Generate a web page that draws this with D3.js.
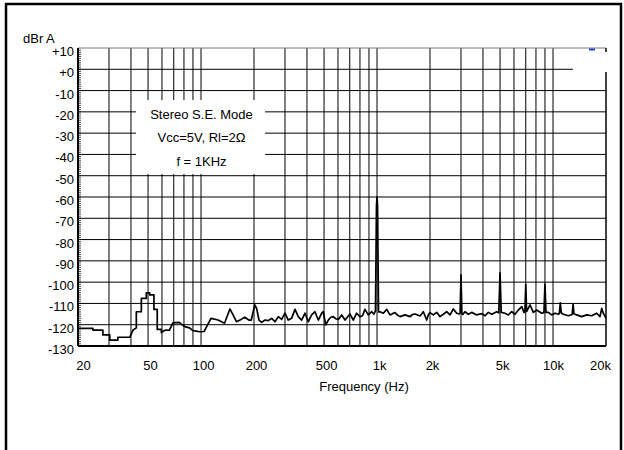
<!DOCTYPE html>
<html>
<head>
<meta charset="utf-8">
<script src="https://cdn.jsdelivr.net/npm/d3@7/dist/d3.min.js"></script>
<style>
body { margin: 0; background: #fff; }
svg text { font-family: "Liberation Sans", Arial, Helvetica, sans-serif; font-size: 13px; fill: #000; }
</style>
</head>
<body>
<div class="visual"></div>
<script>
//data
const freqHz = [20,24.3,24.3,27.7,27.7,30.3,30.3,33.7,33.7,39.3,41.1,42.9,42.9,45.8,45.8,48.9,48.9,51.1,51.1,54,54,56.4,56.4,59.5,59.5,62.7,66,69.3,75,80.8,86,90,98.3,104,114,125,136,146,159,169,177,187,193,202,207,213.5,221,
  231,241,252,263,275,287,300,313,327,342,357,373,390,407,425,444,464,485,495,511,529,546,564,583,603,630,658,680,702,733,766,800,827,854,892,933,960,980,993,1000,1007,1020,
  1040,1086,1135,1185,1225,1265,1310,1351,1442,1540,1590,1644,1755,1833,1916,1960,2000,2089,2183,2280,2380,2488,2599,2714,2837,2930,2965,3000,3035,3070,3162,3302,3452,3684,3934,4108,4290,4485,4788,4920,5000,5080,5337,5573,5826,6082,6352,6641,6845,6920,7000,7080,7402,7727,8079,8625,8880,9000,9120,9403,9830,10264,10717,10860,11000,11140,11441,12215,12850,13000,13150,13628,14550,15535,16586,17708,18496,18906,19306,20000];
const levelDb = [-121.7,-121.7,-122.5,-122.5,-124.8,-124.8,-127.2,-127.2,-125.9,-125.9,-122.5,-121.5,-113.9,-113.9,-107.6,-107.6,-105,-105,-106,-106,-112.8,-112.8,-122.2,-122.2,-123.7,-122.5,-122.6,-119.1,-118.9,-120.9,-121.5,-122.8,-123.3,-123.2,-117,-117.8,-119.3,-112.6,-118.6,-117.5,-116.5,-117.8,-117.8,-110.7,-112.3,-117.8,-118.9,
  -117.8,-118.1,-117,-118.6,-116.2,-117.5,-114.6,-117.8,-117,-112.8,-116.2,-117.8,-114.6,-118.6,-115.4,-113.9,-117.8,-114.6,-113.9,-120.1,-117.8,-116.5,-116.2,-117.2,-117.5,-115.4,-117.8,-116.4,-115,-117.8,-114.6,-116.2,-115.8,-112.8,-115.4,-113.9,-115,-113.5,-64,-60,-64,-114,
  -113.9,-114.6,-112.8,-115.4,-114.8,-114.3,-115.6,-116.2,-115.4,-116.2,-115.2,-115,-115.9,-113.9,-117.8,-115.2,-114.3,-115.4,-114.2,-116.2,-115.1,-113.9,-115.4,-112.6,-114.6,-115,-114.5,-96.6,-114.5,-115.2,-113.9,-115.1,-114.2,-115.4,-114.8,-115.8,-114.2,-115.1,-113.9,-114.4,-95.6,-114.2,-114.6,-115.4,-113.9,-115.1,-113.1,-111.5,-114.2,-114,-101,-113.8,-110.7,-114.2,-113.1,-114.6,-114.3,-100.9,-114.2,-114.2,-115.4,-114.6,-115.1,-114.8,-109.7,-114.5,-115.1,-115.8,-115.2,-110.4,-114.8,-115.4,-116.2,-115.4,-115.8,-114.6,-116.2,-112.3,-114.6,-117];

const xTickValues = [20,50,100,200,500,1000,2000,5000,10000,20000];
const xTickLabels = ["20","50","100","200","500","1k","2k","5k","10k","20k"];
const gridFreqs = [30,40,50,60,70,80,90,100,200,300,400,500,600,700,800,900,1000,2000,3000,4000,5000,6000,7000,8000,9000,10000];
const yTickValues = [10,0,-10,-20,-30,-40,-50,-60,-70,-80,-90,-100,-110,-120,-130];
const yTickLabels = ["+10","+0","-10","-20","-30","-40","-50","-60","-70","-80","-90","-100","-110","-120","-130"];
const noteLines = ["Stereo S.E. Mode","Vcc=5V, Rl=2\u03a9","f = 1KHz"];

//set constants
const width = 624, height = 450;
const margin = {top: 48, bottom: 104, left: 78, right: 18};
const w = width - margin.left - margin.right;
const h = height - margin.top - margin.bottom;

const svg = d3.select(".visual")
  .append("svg")
  .attr("width", width)
  .attr("height", height);

// outer frame (bottom edge is cut off in the original)
svg.append("path")
  .attr("d", "M6,450V4H621V450")
  .attr("fill", "none")
  .attr("stroke", "#000")
  .attr("stroke-width", 2.5);

const g = svg.append("g")
  .attr("transform", "translate(" + margin.left + "," + margin.top + ")");

//scales
const xScale = d3.scaleLog().domain([20, 20000]).range([0, w]);
const yScale = d3.scaleLinear().domain([-130, 10]).range([h, 0]);

// grid
g.selectAll(".vgrid")
  .data(gridFreqs)
  .enter()
  .append("line")
  .attr("class", "vgrid")
  .attr("x1", d => xScale(d)).attr("x2", d => xScale(d))
  .attr("y1", 0).attr("y2", h)
  .attr("stroke", "#000").attr("stroke-width", 1);

g.selectAll(".hgrid")
  .data(yTickValues.filter(d => d > -130))
  .enter()
  .append("line")
  .attr("class", "hgrid")
  .attr("x1", 0)
  .attr("x2", d => d == 0 ? w - 33 : w)
  .attr("y1", d => yScale(d)).attr("y2", d => yScale(d))
  .attr("stroke", d => d == 10 ? "#777" : "#000").attr("stroke-width", 1);

// minor ticks on the dB axis, 1 dB apart
g.selectAll(".minor")
  .data(d3.range(-130, 10, 1))
  .enter()
  .append("line")
  .attr("x1", 0).attr("x2", 3)
  .attr("y1", d => yScale(d)).attr("y2", d => yScale(d))
  .attr("stroke", "#000").attr("stroke-width", 0.7);

// text box masks the grid
g.append("rect")
  .attr("x", 58).attr("y", 52)
  .attr("width", 129).attr("height", 74)
  .attr("fill", "#fff");
g.selectAll(".note")
  .data(noteLines)
  .enter()
  .append("text")
  .attr("class", "note")
  .attr("x", 123.5)
  .attr("y", (d, i) => 70.5 + i * 23.5)
  .attr("text-anchor", "middle")
  .text(d => d);

// frame of the plot
g.append("line").attr("x1", 0).attr("x2", 0).attr("y1", 0).attr("y2", h)
  .attr("stroke", "#000").attr("stroke-width", 2);
g.append("line").attr("x1", 0).attr("x2", w).attr("y1", h).attr("y2", h)
  .attr("stroke", "#000").attr("stroke-width", 2.2);
g.append("line").attr("x1", w).attr("x2", w).attr("y1", 24).attr("y2", h)
  .attr("stroke", "#000").attr("stroke-width", 1.5);
g.append("line").attr("x1", w).attr("x2", w).attr("y1", 0).attr("y2", 4)
  .attr("stroke", "#000").attr("stroke-width", 1.5);
g.append("rect").attr("x", w - 17).attr("y", 0.5).attr("width", 6).attr("height", 2)
  .attr("fill", "#1d3fe0");

// the spectrum
const line = d3.line()
  .x((d, i) => xScale(freqHz[i]))
  .y(d => yScale(d));
g.append("path")
  .datum(levelDb)
  .attr("d", line)
  .attr("fill", "none")
  .attr("stroke", "#000")
  .attr("stroke-width", 1.7)
  .attr("stroke-linejoin", "round");

// axes (labels only)
const yAxis = d3.axisLeft(yScale)
  .tickValues(yTickValues)
  .tickFormat((d, i) => yTickLabels[i])
  .tickSize(0).tickPadding(4);
g.append("g").attr("id", "y-axis").call(yAxis)
  .call(a => a.select(".domain").remove())
  .selectAll("text").attr("dy", "0.58em").attr("fill", "#000");

const xShift = {20: 5, 10000: 0, 20000: -6};
const xAxis = d3.axisBottom(xScale)
  .tickValues(xTickValues)
  .tickFormat((d, i) => xTickLabels[i])
  .tickSize(0).tickPadding(15);
g.append("g").attr("id", "x-axis").attr("transform", "translate(0," + h + ")").call(xAxis)
  .call(a => a.select(".domain").remove())
  .selectAll("text").attr("dx", d => d in xShift ? xShift[d] : 2).attr("fill", "#000");

svg.selectAll(".tick text").style("font-size", "13px").style("font-family", "'Liberation Sans', Arial, sans-serif");

svg.append("text").attr("x", 23).attr("y", 43).text("dBr A");
svg.append("text")
  .attr("x", margin.left + w / 2 + 22)
  .attr("y", 391)
  .attr("text-anchor", "middle")
  .text("Frequency (Hz)");
</script>
</body>
</html>
